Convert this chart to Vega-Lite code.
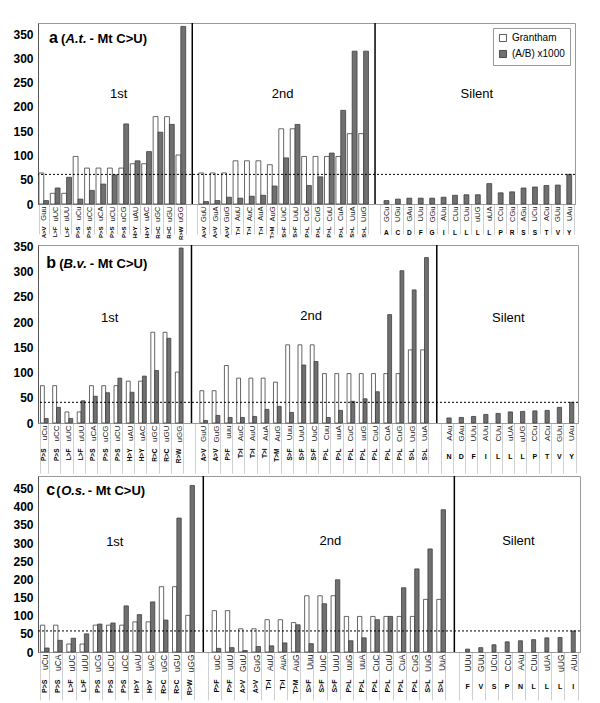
{
  "$schema": "https://vega.github.io/schema/vega-lite/v6.json",
  "background": "white",
  "padding": {"left": 12, "top": 21, "right": 0, "bottom": 0},
  "spacing": 0,
  "config": {"font": "Liberation Sans", "view": {"stroke": "#9a9a9a"}, "axisY": {"tickCount": 10, "labelOverlap": false}},
  "resolve": {"scale": {"color": "independent", "xOffset": "independent"}},
  "datasets": {
    "a": [
      {"k": "01|A>V|Guu", "g": 64, "r": 7},
      {"k": "02|L>F|uUC", "g": 22, "r": 33},
      {"k": "03|L>F|uUU", "g": 22, "r": 55},
      {"k": "04|P>S|uCu", "g": 98, "r": 10},
      {"k": "05|P>S|uCC", "g": 74, "r": 28},
      {"k": "06|P>S|uCA", "g": 74, "r": 41},
      {"k": "07|P>S|uCU", "g": 74, "r": 60},
      {"k": "08|P>S|uCG", "g": 74, "r": 165},
      {"k": "09|H>Y|uAU", "g": 83, "r": 89},
      {"k": "10|H>Y|uAC", "g": 83, "r": 108},
      {"k": "11|R>C|uGC", "g": 180, "r": 148},
      {"k": "12|R>C|uGU", "g": 180, "r": 164},
      {"k": "13|R>W|uGG", "g": 101, "r": 366},
      {"k": "14||"},
      {"k": "15|A>V|GuU", "g": 64, "r": 5},
      {"k": "16|A>V|GuA", "g": 64, "r": 7},
      {"k": "17|A>V|GuG", "g": 64, "r": 14},
      {"k": "18|T>I|AuU", "g": 89, "r": 12},
      {"k": "19|T>I|AuC", "g": 89, "r": 16},
      {"k": "20|T>I|AuA", "g": 89, "r": 18},
      {"k": "21|T>M|AuG", "g": 81, "r": 37},
      {"k": "22|S>F|UuC", "g": 155, "r": 95},
      {"k": "23|S>F|UuU", "g": 155, "r": 164},
      {"k": "24|P>L|CuC", "g": 98, "r": 38},
      {"k": "25|P>L|CuG", "g": 98, "r": 56},
      {"k": "26|P>L|CuU", "g": 98, "r": 105},
      {"k": "27|P>L|CuA", "g": 98, "r": 193},
      {"k": "28|S>L|UuA", "g": 145, "r": 315},
      {"k": "29|S>L|UuG", "g": 145, "r": 315},
      {"k": "30||"},
      {"k": "31|A|GCu", "r": 7},
      {"k": "32|C|UGu", "r": 10},
      {"k": "33|D|GAu", "r": 12},
      {"k": "34|F|UUu", "r": 12},
      {"k": "35|G|GGu", "r": 12},
      {"k": "36|I|AUu", "r": 14},
      {"k": "37|L|CUu", "r": 18},
      {"k": "38|L|CUu", "r": 19},
      {"k": "39|L|uUG", "r": 19},
      {"k": "40|L|uUA", "r": 42},
      {"k": "41|P|CCu", "r": 23},
      {"k": "42|R|CGu", "r": 25},
      {"k": "43|S|AGu", "r": 33},
      {"k": "44|S|UCu", "r": 35},
      {"k": "45|T|ACu", "r": 38},
      {"k": "46|V|GUu", "r": 39},
      {"k": "47|Y|UAu", "r": 61}
    ],
    "b": [
      {"k": "01|P>S|uCu", "g": 74, "r": 9},
      {"k": "02|P>S|uCC", "g": 74, "r": 31},
      {"k": "03|L>F|uUC", "g": 22, "r": 9},
      {"k": "04|L>F|uUU", "g": 22, "r": 44},
      {"k": "05|P>S|uCA", "g": 74, "r": 53},
      {"k": "06|P>S|uCG", "g": 74, "r": 60},
      {"k": "07|P>S|uCU", "g": 74, "r": 89},
      {"k": "08|H>Y|uAU", "g": 83, "r": 61},
      {"k": "09|H>Y|uAC", "g": 83, "r": 93},
      {"k": "10|R>C|uGC", "g": 180, "r": 104},
      {"k": "11|R>C|uGU", "g": 180, "r": 168},
      {"k": "12|R>W|uGG", "g": 101, "r": 347},
      {"k": "13||"},
      {"k": "14|A>V|GuU", "g": 64, "r": 5},
      {"k": "15|A>V|GuG", "g": 64, "r": 15},
      {"k": "16|P>F|uuu", "g": 114, "r": 11},
      {"k": "17|T>I|AuC", "g": 89, "r": 11},
      {"k": "18|T>I|AuU", "g": 89, "r": 13},
      {"k": "19|T>I|AuA", "g": 89, "r": 27},
      {"k": "20|T>M|AuG", "g": 81, "r": 33},
      {"k": "21|S>F|Uuu", "g": 155, "r": 21},
      {"k": "22|S>F|UuU", "g": 155, "r": 115},
      {"k": "23|S>F|UuC", "g": 155, "r": 122},
      {"k": "24|P>L|Cuu", "g": 98, "r": 11},
      {"k": "25|P>L|uuA", "g": 98, "r": 25},
      {"k": "26|P>L|CuC", "g": 98, "r": 43},
      {"k": "27|P>L|uuG", "g": 98, "r": 48},
      {"k": "28|P>L|CuU", "g": 98, "r": 62},
      {"k": "29|P>L|CuA", "g": 98, "r": 215},
      {"k": "30|P>L|CuG", "g": 98, "r": 302},
      {"k": "31|S>L|UuG", "g": 145, "r": 264},
      {"k": "32|S>L|UuA", "g": 145, "r": 328},
      {"k": "33||"},
      {"k": "34|N|AAu", "r": 10},
      {"k": "35|D|GAu", "r": 11},
      {"k": "36|F|UUu", "r": 13},
      {"k": "37|I|AUu", "r": 17},
      {"k": "38|L|CUu", "r": 19},
      {"k": "39|L|uUA", "r": 22},
      {"k": "40|L|uUG", "r": 23},
      {"k": "41|P|CCu", "r": 24},
      {"k": "42|T|ACu", "r": 25},
      {"k": "43|V|GUu", "r": 31},
      {"k": "44|Y|UAu", "r": 41}
    ],
    "c": [
      {"k": "01|P>S|uCu", "g": 74, "r": 11},
      {"k": "02|P>S|uCA", "g": 74, "r": 32},
      {"k": "03|L>F|uUC", "g": 22, "r": 38},
      {"k": "04|L>F|uUU", "g": 22, "r": 50},
      {"k": "05|P>S|uCG", "g": 74, "r": 77},
      {"k": "06|P>S|uCU", "g": 74, "r": 80},
      {"k": "07|P>S|uCC", "g": 74, "r": 127},
      {"k": "08|H>Y|uAU", "g": 83, "r": 103},
      {"k": "09|H>Y|uAC", "g": 83, "r": 138},
      {"k": "10|R>C|uGC", "g": 180, "r": 88},
      {"k": "11|R>C|uGU", "g": 180, "r": 369},
      {"k": "12|R>W|uGG", "g": 101, "r": 459},
      {"k": "13||"},
      {"k": "14|P>F|uuC", "g": 114, "r": 10},
      {"k": "15|P>F|uuU", "g": 114, "r": 12},
      {"k": "16|A>V|GuU", "g": 64, "r": 4},
      {"k": "17|A>V|GuG", "g": 64, "r": 15},
      {"k": "18|T>I|AuU", "g": 89, "r": 17},
      {"k": "19|T>I|AuA", "g": 89, "r": 25},
      {"k": "20|T>M|AuG", "g": 81, "r": 75},
      {"k": "21|S>F|Uuu", "g": 155, "r": 23},
      {"k": "22|S>F|UuC", "g": 155, "r": 133},
      {"k": "23|S>F|UuU", "g": 155, "r": 199},
      {"k": "24|P>L|uuG", "g": 98, "r": 31},
      {"k": "25|P>L|uuA", "g": 98, "r": 39},
      {"k": "26|P>L|CuC", "g": 98, "r": 89},
      {"k": "27|P>L|CuU", "g": 98, "r": 98},
      {"k": "28|P>L|CuA", "g": 98, "r": 177},
      {"k": "29|P>L|CuG", "g": 98, "r": 229},
      {"k": "30|S>L|UuG", "g": 145, "r": 284},
      {"k": "31|S>L|UuA", "g": 145, "r": 392},
      {"k": "32||"},
      {"k": "33|F|UUu", "r": 8},
      {"k": "34|V|GUu", "r": 12},
      {"k": "35|S|UCu", "r": 20},
      {"k": "36|P|CCu", "r": 28},
      {"k": "37|N|AAu", "r": 31},
      {"k": "38|L|CUu", "r": 34},
      {"k": "39|L|uUA", "r": 39},
      {"k": "40|L|uUG", "r": 40},
      {"k": "41|I|AUu", "r": 58}
    ]
  },
  "vconcat": [
    {
      "width": 537,
      "height": 181,
      "data": {"name": "a"},
      "resolve": {"axis": {"x": "independent"}},
      "layer": [
        {
          "transform": [{"filter": "isValid(datum.g)"}, {"fold": ["g", "r"], "as": ["s", "v"]}],
          "mark": {"type": "bar", "stroke": "#404040", "strokeWidth": 0.8},
          "encoding": {
            "x": {"field": "k", "type": "nominal", "scale": {"paddingInner": 0.15, "paddingOuter": 0.08},
              "axis": {"orient": "bottom", "title": null, "labelExpr": "split(datum.value,'|')[2]", "labelAngle": -90, "labelAlign": "right", "labelBaseline": "middle", "labelFontSize": 7.5, "labelColor": "#222", "labelPadding": -28, "tickBand": "extent", "tickSize": 30, "tickColor": "#c4c4c4", "tickWidth": 0.8, "domainColor": "#9a9a9a", "labelOverlap": false, "labelFlush": false, "labelBound": false}},
            "xOffset": {"field": "s", "type": "nominal", "scale": {"domain": ["g", "r"]}},
            "y": {"field": "v", "type": "quantitative", "scale": {"domain": [0, 373], "nice": false},
              "axis": {"title": null, "values": [0, 50, 100, 150, 200, 250, 300, 350], "tickCount": 10, "ticks": false, "grid": false, "labelFontSize": 12, "labelFontWeight": "bold", "labelPadding": 5, "labelOverlap": false, "domainColor": "#555", "labelColor": "#000"}},
            "color": {"field": "s", "type": "nominal", "scale": {"domain": ["g", "r"], "range": ["#ffffff", "#707070"]},
              "legend": {"orient": "top-right", "offset": 5, "title": null, "labelExpr": "datum.label == 'g' ? 'Grantham' : '(A/B) x1000'", "symbolType": "square", "symbolSize": 50, "symbolStrokeColor": "#333", "symbolStrokeWidth": 0.8, "strokeColor": "#999", "fillColor": "white", "padding": 5, "labelFontSize": 10, "rowPadding": 4, "labelColor": "#000"}}
          }
        },
        {
          "transform": [{"filter": "!isValid(datum.g) && isValid(datum.r)"}],
          "mark": {"type": "bar", "fill": "#707070", "stroke": "#404040", "strokeWidth": 0.8, "width": {"band": 0.5}},
          "encoding": {
            "x": {"field": "k", "type": "nominal", "axis": {"orient": "bottom", "offset": 25, "title": null, "domain": false, "ticks": false, "labelExpr": "length(split(datum.value,'|')[1]) == 1 ? split(datum.value,'|')[1] : ''", "labelAngle": 0, "labelAlign": "center", "labelBaseline": "top", "labelFontSize": 6.5, "labelFontWeight": "bold", "labelPadding": 0, "labelOverlap": false, "labelColor": "#000"}},
            "y": {"field": "r", "type": "quantitative"}
          }
        },
        {
          "transform": [{"filter": "!isValid(datum.r)"}],
          "mark": {"type": "rule", "color": "#000", "strokeWidth": 1.5},
          "encoding": {
            "x": {"field": "k", "type": "nominal", "axis": {"orient": "bottom", "offset": 22, "title": null, "domain": false, "ticks": false, "labelExpr": "length(split(datum.value,'|')[1]) > 1 ? split(datum.value,'|')[1] : ''", "labelAngle": -90, "labelAlign": "right", "labelBaseline": "middle", "labelFontSize": 6, "labelFontWeight": "bold", "labelPadding": 0, "labelOverlap": false, "labelColor": "#000"}}
          }
        },
        {
          "data": {"values": [{}]},
          "mark": {"type": "rule", "color": "#000", "strokeDash": [2, 2], "strokeWidth": 1},
          "encoding": {"y": {"datum": 61, "type": "quantitative"}}
        },
        {
          "transform": [{"filter": "datum.k == '08|P>S|uCG'"}],
          "mark": {"type": "text", "text": "1st", "fontSize": 13, "align": "center", "baseline": "alphabetic", "dx": -5, "color": "#000"},
          "encoding": {"x": {"field": "k", "type": "nominal", "axis": null}, "y": {"datum": 219, "type": "quantitative"}}
        },
        {
          "transform": [{"filter": "datum.k == '22|S>F|UuC'"}],
          "mark": {"type": "text", "text": "2nd", "fontSize": 13, "align": "center", "baseline": "alphabetic", "dx": -1, "color": "#000"},
          "encoding": {"x": {"field": "k", "type": "nominal", "axis": null}, "y": {"datum": 219, "type": "quantitative"}}
        },
        {
          "transform": [{"filter": "datum.k == '39|L|uUG'"}],
          "mark": {"type": "text", "text": "Silent", "fontSize": 13, "align": "center", "baseline": "alphabetic", "dx": -1, "color": "#000"},
          "encoding": {"x": {"field": "k", "type": "nominal", "axis": null}, "y": {"datum": 219, "type": "quantitative"}}
        },
        {
          "transform": [{"filter": "datum.k == '01|A>V|Guu'"}],
          "mark": {"type": "text", "text": "a", "fontSize": 16, "fontWeight": "bold", "align": "left", "baseline": "alphabetic", "dx": 5.3, "color": "#000"},
          "encoding": {"x": {"field": "k", "type": "nominal", "axis": null}, "y": {"datum": 332, "type": "quantitative"}}
        },
        {
          "transform": [{"filter": "datum.k == '01|A>V|Guu'"}],
          "mark": {"type": "text", "text": "(", "fontSize": 13, "fontWeight": "bold", "align": "left", "baseline": "alphabetic", "dx": 17.3, "color": "#000"},
          "encoding": {"x": {"field": "k", "type": "nominal", "axis": null}, "y": {"datum": 332, "type": "quantitative"}}
        },
        {
          "transform": [{"filter": "datum.k == '01|A>V|Guu'"}],
          "mark": {"type": "text", "text": "A.t.", "fontSize": 13, "fontWeight": "bold", "fontStyle": "italic", "align": "left", "baseline": "alphabetic", "dx": 21.8, "color": "#000"},
          "encoding": {"x": {"field": "k", "type": "nominal", "axis": null}, "y": {"datum": 332, "type": "quantitative"}}
        },
        {
          "transform": [{"filter": "datum.k == '01|A>V|Guu'"}],
          "mark": {"type": "text", "text": " - Mt C>U)", "fontSize": 13, "fontWeight": "bold", "align": "left", "baseline": "alphabetic", "dx": 45.8, "color": "#000"},
          "encoding": {"x": {"field": "k", "type": "nominal", "axis": null}, "y": {"datum": 332, "type": "quantitative"}}
        }
      ]
    },
    {
      "width": 540,
      "height": 178,
      "data": {"name": "b"},
      "resolve": {"axis": {"x": "independent"}},
      "layer": [
        {
          "transform": [{"filter": "isValid(datum.g)"}, {"fold": ["g", "r"], "as": ["s", "v"]}],
          "mark": {"type": "bar", "stroke": "#404040", "strokeWidth": 0.8},
          "encoding": {
            "x": {"field": "k", "type": "nominal", "scale": {"paddingInner": 0.37, "paddingOuter": 0.2},
              "axis": {"orient": "bottom", "title": null, "labelExpr": "split(datum.value,'|')[2]", "labelAngle": -90, "labelAlign": "right", "labelBaseline": "middle", "labelFontSize": 8, "labelColor": "#222", "labelPadding": -48, "tickBand": "extent", "tickSize": 50, "tickColor": "#c4c4c4", "tickWidth": 0.8, "domainColor": "#9a9a9a", "labelOverlap": false, "labelFlush": false, "labelBound": false}},
            "xOffset": {"field": "s", "type": "nominal", "scale": {"domain": ["g", "r"]}},
            "y": {"field": "v", "type": "quantitative", "scale": {"domain": [0, 353], "nice": false},
              "axis": {"title": null, "values": [0, 50, 100, 150, 200, 250, 300, 350], "tickCount": 10, "ticks": false, "grid": false, "labelFontSize": 12, "labelFontWeight": "bold", "labelPadding": 5, "labelOverlap": false, "domainColor": "#555", "labelColor": "#000"}},
            "color": {"field": "s", "type": "nominal", "scale": {"domain": ["g", "r"], "range": ["#ffffff", "#707070"]}, "legend": null}
          }
        },
        {
          "transform": [{"filter": "!isValid(datum.g) && isValid(datum.r)"}],
          "mark": {"type": "bar", "fill": "#707070", "stroke": "#404040", "strokeWidth": 0.8, "width": {"band": 0.55}},
          "encoding": {
            "x": {"field": "k", "type": "nominal", "axis": {"orient": "bottom", "offset": 29, "title": null, "domain": false, "ticks": false, "labelExpr": "length(split(datum.value,'|')[1]) == 1 ? split(datum.value,'|')[1] : ''", "labelAngle": 0, "labelAlign": "center", "labelBaseline": "top", "labelFontSize": 7, "labelFontWeight": "bold", "labelPadding": 0, "labelOverlap": false, "labelColor": "#000"}},
            "y": {"field": "r", "type": "quantitative"}
          }
        },
        {
          "transform": [{"filter": "!isValid(datum.r)"}],
          "mark": {"type": "rule", "color": "#000", "strokeWidth": 1.5},
          "encoding": {
            "x": {"field": "k", "type": "nominal", "axis": {"orient": "bottom", "offset": 25, "title": null, "domain": false, "ticks": false, "labelExpr": "length(split(datum.value,'|')[1]) > 1 ? split(datum.value,'|')[1] : ''", "labelAngle": -90, "labelAlign": "right", "labelBaseline": "middle", "labelFontSize": 6.5, "labelFontWeight": "bold", "labelPadding": 0, "labelOverlap": false, "labelColor": "#000"}}
          }
        },
        {
          "data": {"values": [{}]},
          "mark": {"type": "rule", "color": "#000", "strokeDash": [2, 2], "strokeWidth": 1},
          "encoding": {"y": {"datum": 41, "type": "quantitative"}}
        },
        {
          "transform": [{"filter": "datum.k == '06|P>S|uCG'"}],
          "mark": {"type": "text", "text": "1st", "fontSize": 13, "align": "center", "baseline": "alphabetic", "dx": 4, "color": "#000"},
          "encoding": {"x": {"field": "k", "type": "nominal", "axis": null}, "y": {"datum": 201, "type": "quantitative"}}
        },
        {
          "transform": [{"filter": "datum.k == '23|S>F|UuC'"}],
          "mark": {"type": "text", "text": "2nd", "fontSize": 13, "align": "center", "baseline": "alphabetic", "dx": -3, "color": "#000"},
          "encoding": {"x": {"field": "k", "type": "nominal", "axis": null}, "y": {"datum": 205, "type": "quantitative"}}
        },
        {
          "transform": [{"filter": "datum.k == '39|L|uUA'"}],
          "mark": {"type": "text", "text": "Silent", "fontSize": 13, "align": "center", "baseline": "alphabetic", "dx": -2, "color": "#000"},
          "encoding": {"x": {"field": "k", "type": "nominal", "axis": null}, "y": {"datum": 201, "type": "quantitative"}}
        },
        {
          "transform": [{"filter": "datum.k == '01|P>S|uCu'"}],
          "mark": {"type": "text", "text": "b", "fontSize": 16, "fontWeight": "bold", "align": "left", "baseline": "alphabetic", "dx": 1.9, "color": "#000"},
          "encoding": {"x": {"field": "k", "type": "nominal", "axis": null}, "y": {"datum": 308, "type": "quantitative"}}
        },
        {
          "transform": [{"filter": "datum.k == '01|P>S|uCu'"}],
          "mark": {"type": "text", "text": "(", "fontSize": 13, "fontWeight": "bold", "align": "left", "baseline": "alphabetic", "dx": 14.9, "color": "#000"},
          "encoding": {"x": {"field": "k", "type": "nominal", "axis": null}, "y": {"datum": 308, "type": "quantitative"}}
        },
        {
          "transform": [{"filter": "datum.k == '01|P>S|uCu'"}],
          "mark": {"type": "text", "text": "B.v.", "fontSize": 13, "fontWeight": "bold", "fontStyle": "italic", "align": "left", "baseline": "alphabetic", "dx": 19.3, "color": "#000"},
          "encoding": {"x": {"field": "k", "type": "nominal", "axis": null}, "y": {"datum": 308, "type": "quantitative"}}
        },
        {
          "transform": [{"filter": "datum.k == '01|P>S|uCu'"}],
          "mark": {"type": "text", "text": " - Mt C>U)", "fontSize": 13, "fontWeight": "bold", "align": "left", "baseline": "alphabetic", "dx": 45.5, "color": "#000"},
          "encoding": {"x": {"field": "k", "type": "nominal", "axis": null}, "y": {"datum": 308, "type": "quantitative"}}
        }
      ]
    },
    {
      "width": 542,
      "height": 176,
      "data": {"name": "c"},
      "resolve": {"axis": {"x": "independent"}},
      "layer": [
        {
          "transform": [{"filter": "isValid(datum.g)"}, {"fold": ["g", "r"], "as": ["s", "v"]}],
          "mark": {"type": "bar", "stroke": "#404040", "strokeWidth": 0.8},
          "encoding": {
            "x": {"field": "k", "type": "nominal", "scale": {"paddingInner": 0.34, "paddingOuter": 0.18},
              "axis": {"orient": "bottom", "title": null, "labelExpr": "split(datum.value,'|')[2]", "labelAngle": -90, "labelAlign": "right", "labelBaseline": "middle", "labelFontSize": 8.5, "labelColor": "#222", "labelPadding": -46, "tickBand": "extent", "tickSize": 48, "tickColor": "#c4c4c4", "tickWidth": 0.8, "domainColor": "#9a9a9a", "labelOverlap": false, "labelFlush": false, "labelBound": false}},
            "xOffset": {"field": "s", "type": "nominal", "scale": {"domain": ["g", "r"]}},
            "y": {"field": "v", "type": "quantitative", "scale": {"domain": [0, 485], "nice": false},
              "axis": {"title": null, "values": [0, 50, 100, 150, 200, 250, 300, 350, 400, 450], "tickCount": 10, "ticks": false, "grid": false, "labelFontSize": 12, "labelFontWeight": "bold", "labelPadding": 5, "labelOverlap": false, "domainColor": "#555", "labelColor": "#000"}},
            "color": {"field": "s", "type": "nominal", "scale": {"domain": ["g", "r"], "range": ["#ffffff", "#707070"]}, "legend": null}
          }
        },
        {
          "transform": [{"filter": "!isValid(datum.g) && isValid(datum.r)"}],
          "mark": {"type": "bar", "fill": "#707070", "stroke": "#404040", "strokeWidth": 0.8, "width": {"band": 0.46}},
          "encoding": {
            "x": {"field": "k", "type": "nominal", "axis": {"orient": "bottom", "offset": 30, "title": null, "domain": false, "ticks": false, "labelExpr": "length(split(datum.value,'|')[1]) == 1 ? split(datum.value,'|')[1] : ''", "labelAngle": 0, "labelAlign": "center", "labelBaseline": "top", "labelFontSize": 7, "labelFontWeight": "bold", "labelPadding": 0, "labelOverlap": false, "labelColor": "#000"}},
            "y": {"field": "r", "type": "quantitative"}
          }
        },
        {
          "transform": [{"filter": "!isValid(datum.r)"}],
          "mark": {"type": "rule", "color": "#000", "strokeWidth": 1.5},
          "encoding": {
            "x": {"field": "k", "type": "nominal", "axis": {"orient": "bottom", "offset": 27, "title": null, "domain": false, "ticks": false, "labelExpr": "length(split(datum.value,'|')[1]) > 1 ? split(datum.value,'|')[1] : ''", "labelAngle": -90, "labelAlign": "right", "labelBaseline": "middle", "labelFontSize": 7, "labelFontWeight": "bold", "labelPadding": 0, "labelOverlap": false, "labelColor": "#000"}}
          }
        },
        {
          "data": {"values": [{}]},
          "mark": {"type": "rule", "color": "#000", "strokeDash": [2, 2], "strokeWidth": 1},
          "encoding": {"y": {"datum": 58, "type": "quantitative"}}
        },
        {
          "transform": [{"filter": "datum.k == '06|P>S|uCU'"}],
          "mark": {"type": "text", "text": "1st", "fontSize": 13, "align": "center", "baseline": "alphabetic", "dx": 4, "color": "#000"},
          "encoding": {"x": {"field": "k", "type": "nominal", "axis": null}, "y": {"datum": 292, "type": "quantitative"}}
        },
        {
          "transform": [{"filter": "datum.k == '23|S>F|UuU'"}],
          "mark": {"type": "text", "text": "2nd", "fontSize": 13, "align": "center", "baseline": "alphabetic", "dx": -5, "color": "#000"},
          "encoding": {"x": {"field": "k", "type": "nominal", "axis": null}, "y": {"datum": 296, "type": "quantitative"}}
        },
        {
          "transform": [{"filter": "datum.k == '37|N|AAu'"}],
          "mark": {"type": "text", "text": "Silent", "fontSize": 13, "align": "center", "baseline": "alphabetic", "dx": -2, "color": "#000"},
          "encoding": {"x": {"field": "k", "type": "nominal", "axis": null}, "y": {"datum": 294, "type": "quantitative"}}
        },
        {
          "transform": [{"filter": "datum.k == '01|P>S|uCu'"}],
          "mark": {"type": "text", "text": "c", "fontSize": 16, "fontWeight": "bold", "align": "left", "baseline": "alphabetic", "dx": 1.4, "color": "#000"},
          "encoding": {"x": {"field": "k", "type": "nominal", "axis": null}, "y": {"datum": 432, "type": "quantitative"}}
        },
        {
          "transform": [{"filter": "datum.k == '01|P>S|uCu'"}],
          "mark": {"type": "text", "text": "(", "fontSize": 13, "fontWeight": "bold", "align": "left", "baseline": "alphabetic", "dx": 11.4, "color": "#000"},
          "encoding": {"x": {"field": "k", "type": "nominal", "axis": null}, "y": {"datum": 432, "type": "quantitative"}}
        },
        {
          "transform": [{"filter": "datum.k == '01|P>S|uCu'"}],
          "mark": {"type": "text", "text": "O.s.", "fontSize": 13, "fontWeight": "bold", "fontStyle": "italic", "align": "left", "baseline": "alphabetic", "dx": 16.4, "color": "#000"},
          "encoding": {"x": {"field": "k", "type": "nominal", "axis": null}, "y": {"datum": 432, "type": "quantitative"}}
        },
        {
          "transform": [{"filter": "datum.k == '01|P>S|uCu'"}],
          "mark": {"type": "text", "text": " - Mt C>U)", "fontSize": 13, "fontWeight": "bold", "align": "left", "baseline": "alphabetic", "dx": 43, "color": "#000"},
          "encoding": {"x": {"field": "k", "type": "nominal", "axis": null}, "y": {"datum": 432, "type": "quantitative"}}
        }
      ]
    }
  ]
}
